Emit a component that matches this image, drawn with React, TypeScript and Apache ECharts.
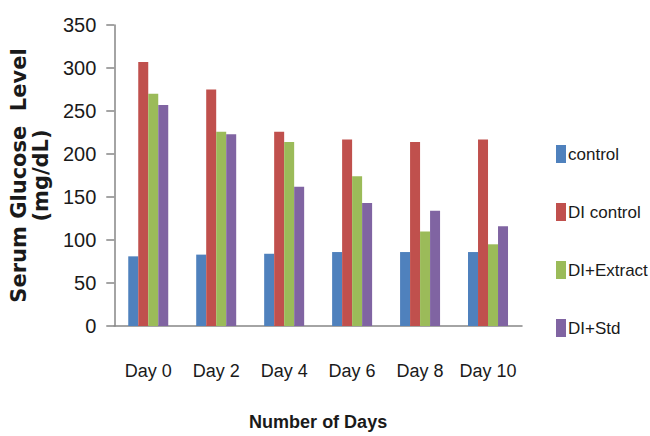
import React, { useEffect, useRef } from "react";
import * as echarts from "echarts";

const categories = ["Day 0", "Day 2", "Day 4", "Day 6", "Day 8", "Day 10"];
const seriesNames = ["control", "DI control", "DI+Extract", "DI+Std"];
const controlValues = [81, 83, 84, 86, 86, 86];
const diControlValues = [307, 275, 226, 217, 214, 217];
const diExtractValues = [270, 226, 214, 174, 110, 95];
const diStdValues = [257, 223, 162, 143, 134, 116];
const colors = ["#4F81BD", "#C0504D", "#9BBB59", "#8064A2"];

const sans = "'Liberation Sans', Arial, sans-serif";

export default function App() {
  const ref = useRef<HTMLDivElement>(null);
  useEffect(() => {
    if (!ref.current) return;
    const chart = echarts.init(ref.current, null, { renderer: "svg" });
    const data = [controlValues, diControlValues, diExtractValues, diStdValues];
    chart.setOption({
      animation: false,
      backgroundColor: "#fff",
      grid: { left: 108, right: 128, top: 25, bottom: 103 },
      legend: {
        orient: "vertical",
        left: 551,
        top: 140,
        itemWidth: 10,
        itemHeight: 18,
        itemGap: 40,
        icon: "rect",
        textStyle: { fontFamily: sans, fontSize: 17, color: "#1a1a1a", padding: [0, 0, 0, -3] },
        data: seriesNames,
      },
      xAxis: {
        type: "category",
        data: categories,
        name: "Number of Days",
        nameLocation: "middle",
        nameGap: 87,
        nameTextStyle: { fontFamily: sans, fontSize: 18, fontWeight: "bold", color: "#1a1a1a" },
        axisLine: { lineStyle: { color: "#868686", width: 1.5 } },
        axisTick: { show: false },
        axisLabel: { fontFamily: sans, fontSize: 18, color: "#1a1a1a", margin: 36, interval: 0 },
      },
      yAxis: {
        type: "value",
        min: 0,
        max: 350,
        interval: 50,
        name: "Serum Glucose  Level\n(mg/dL)",
        nameLocation: "middle",
        nameGap: 56,
        nameTextStyle: {
          fontFamily: "'DejaVu Sans', sans-serif",
          fontSize: 21,
          fontWeight: "bold",
          color: "#1a1a1a",
          lineHeight: 22,
        },
        splitLine: { show: false },
        axisLine: { show: true, lineStyle: { color: "#868686", width: 1.5 } },
        axisTick: { show: true, length: 8, lineStyle: { color: "#868686", width: 1.5 } },
        axisLabel: { fontFamily: sans, fontSize: 20, color: "#1a1a1a", margin: 18 },
      },
      series: seriesNames.map((name, i) => ({
        name,
        type: "bar",
        data: data[i],
        barWidth: 10,
        barGap: "0%",
        itemStyle: { color: colors[i] },
      })),
    });
    return () => chart.dispose();
  }, []);
  return <div ref={ref} style={{ width: 650, height: 436, position: "absolute", left: 0, top: 0 }} />;
}
